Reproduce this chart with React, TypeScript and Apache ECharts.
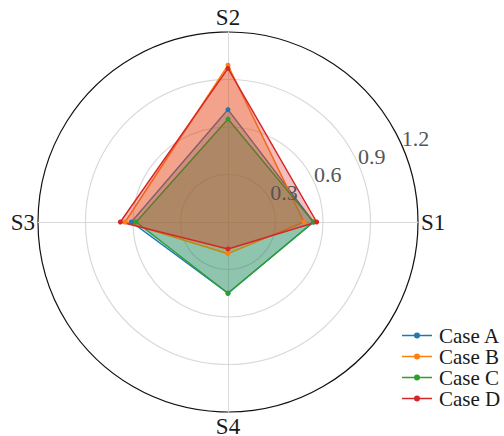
import React, { useEffect, useRef } from "react";
import * as echarts from "echarts";

// Spoke names, counter-clockwise from the right
const axes = ["S1", "S2", "S3", "S4"];
const caseNames = ["Case A", "Case B", "Case C", "Case D"];
const caseA = [0.54, 0.71, 0.61, 0.45];
const caseB = [0.48, 0.99, 0.65, 0.2];
const caseC = [0.54, 0.65, 0.58, 0.45];
const caseD = [0.56, 0.97, 0.68, 0.17];
const ringTicks = [0.3, 0.6, 0.9, 1.2];
const rMax = 1.2;

const colors = ["#1f77b4", "#ff7f0e", "#2ca02c", "#d62728"];
const serif = "Liberation Serif";

// Line with a dot in the middle, used as legend marker
const legendIcon =
  "path://M0,2.25H30V3.75H0Z M18,3A3,3 0 1 1 12,3A3,3 0 1 1 18,3Z";

export default function App() {
  const ref = useRef<HTMLDivElement>(null);

  useEffect(() => {
    if (!ref.current) return;
    const chart = echarts.init(ref.current, null, { renderer: "svg" });
    const cx = 228;
    const cy = 222;
    const R = 190;
    const values = [caseA, caseB, caseC, caseD];
    const labelAngle = (22.5 * Math.PI) / 180;

    // Radial tick labels along the 22.5° direction
    const tickTexts = ringTicks.map((t) => {
      const r = (t / rMax) * R;
      return {
        type: "text",
        x: cx + r * Math.cos(labelAngle) + 12,
        y: cy - r * Math.sin(labelAngle) - 11,
        z: 5,
        style: {
          text: t.toFixed(1),
          fontFamily: serif,
          fontSize: 22,
          fill: "#555",
          align: "center",
          verticalAlign: "middle",
        },
      };
    });

    chart.setOption({
      animation: false,
      backgroundColor: "#fff",
      color: colors,
      legend: {
        orient: "vertical",
        left: 397,
        top: 320,
        itemGap: 0,
        itemWidth: 30,
        itemHeight: 6,
        icon: legendIcon,
        data: caseNames,
        textStyle: {
          fontFamily: serif,
          fontSize: 21,
          lineHeight: 21,
          color: "#1a1a1a",
          padding: [0, 0, 0, 2],
        },
      },
      radar: {
        center: [cx, cy],
        radius: R,
        startAngle: 0,
        shape: "circle",
        splitNumber: 4,
        indicator: axes.map((name) => ({ name, min: 0, max: rMax })),
        axisName: {
          color: "#1a1a1a",
          fontFamily: serif,
          fontSize: 23,
        },
        nameGap: 3,
        axisLine: { lineStyle: { color: "#d9d9d9", width: 1 } },
        splitLine: {
          lineStyle: {
            color: ["#d9d9d9", "#d9d9d9", "#d9d9d9", "#d9d9d9", "#111"],
            width: 1.2,
          },
        },
        splitArea: { show: false },
        axisTick: { show: false },
        axisLabel: { show: false },
      },
      graphic: tickTexts,
      series: caseNames.map((name, i) => ({
        type: "radar",
        name,
        symbol: "circle",
        symbolSize: 5,
        lineStyle: { width: 1.5, color: colors[i] },
        itemStyle: { color: colors[i] },
        areaStyle: { color: colors[i], opacity: 0.3 },
        data: [{ name, value: values[i] }],
      })),
    });

    return () => chart.dispose();
  }, []);

  return (
    <div
      ref={ref}
      style={{ position: "fixed", left: 0, top: 0, width: 504, height: 436 }}
    />
  );
}
